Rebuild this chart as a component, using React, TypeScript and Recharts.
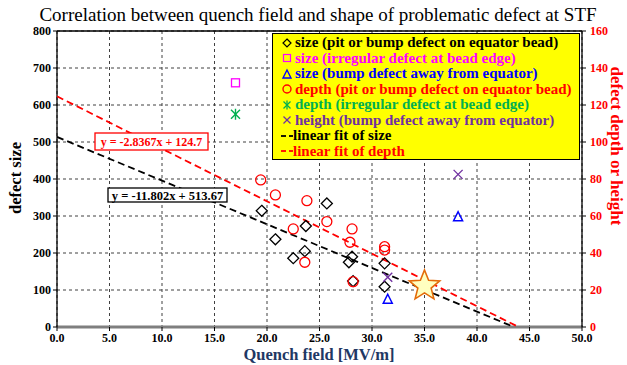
import React from 'react';
import { ComposedChart, Scatter, XAxis, YAxis, CartesianGrid, ReferenceLine } from 'recharts';

// ---- tick labels ----
const xTicks = [0, 5, 10, 15, 20, 25, 30, 35, 40, 45, 50];
const sizeTicks = [0, 100, 200, 300, 400, 500, 600, 700, 800];
const depthTicks = [0, 20, 40, 60, 80, 100, 120, 140, 160];

// ---- size (pit or bump defect on equator bead) ----
const sizeEquatorField = [19.5, 20.8, 22.5, 23.6, 23.7, 25.7, 27.8, 28.1, 28.2, 31.2, 31.2];
const sizeEquatorValue = [314, 237, 186, 205, 273, 334, 175, 190, 124, 172, 109];

// ---- size (irregular defect at bead edge) ----
const sizeEdgeField = [17.0];
const sizeEdgeValue = [660];

// ---- size (bump defect away from equator) ----
const sizeAwayField = [31.5, 38.2];
const sizeAwayValue = [75, 298];

// ---- depth (pit or bump defect on equator bead) ----
const depthEquatorField = [19.4, 20.8, 22.5, 23.6, 23.8, 25.7, 27.9, 28.1, 28.2, 31.2, 31.2];
const depthEquatorValue = [79.5, 71.4, 53, 35, 68.3, 57, 45.8, 53, 24.5, 43.4, 41.6];

// ---- depth (irregular defect at bead edge) ----
const depthEdgeField = [17.0];
const depthEdgeValue = [115];

// ---- height (bump defect away from equator) ----
const heightAwayField = [31.5, 38.2];
const heightAwayValue = [26.9, 82.5];

// ---- highlighted star ----
const starField = [35.0];
const starValue = [111];

// ---- linear fits (from the chart's equations) ----
const sizeFitSlope = -11.802;
const sizeFitIntercept = 513.67;
const depthFitSlope = -2.8367;
const depthFitIntercept = 124.7;

const zip = (xs: number[], ys: number[]) => xs.map((x, i) => ({ x, y: ys[i] }));
const fitLine = (m: number, b: number) => [
  { x: 0, y: b },
  { x: -b / m, y: 0 },
];

const FONT = "'Liberation Serif', 'Times New Roman', serif";

const C_BLACK = '#000000';
const C_MAGENTA = '#FF00FF';
const C_BLUE = '#0000FF';
const C_RED = '#FF0000';
const C_GREEN = '#00B050';
const C_PURPLE = '#7030A0';

const DiamondShape = (p: any) => {
  const { cx, cy } = p;
  if (cx == null || cy == null) return <g />;
  const r = 5.5;
  return (
    <polygon
      points={`${cx},${cy - r} ${cx + r},${cy} ${cx},${cy + r} ${cx - r},${cy}`}
      fill="none"
      stroke={C_BLACK}
      strokeWidth={1.3}
    />
  );
};
const SquareShape = (p: any) => {
  const { cx, cy } = p;
  if (cx == null || cy == null) return <g />;
  return <rect x={cx - 4} y={cy - 4} width={8} height={8} fill="none" stroke={C_MAGENTA} strokeWidth={1.3} />;
};
const TriangleShape = (p: any) => {
  const { cx, cy } = p;
  if (cx == null || cy == null) return <g />;
  return (
    <polygon
      points={`${cx},${cy - 5} ${cx + 4.5},${cy + 4} ${cx - 4.5},${cy + 4}`}
      fill="none"
      stroke={C_BLUE}
      strokeWidth={1.5}
    />
  );
};
const CircleShape = (p: any) => {
  const { cx, cy } = p;
  if (cx == null || cy == null) return <g />;
  return <circle cx={cx} cy={cy} r={5} fill="none" stroke={C_RED} strokeWidth={1.3} />;
};
const AsteriskShape = (p: any) => {
  const { cx, cy } = p;
  if (cx == null || cy == null) return <g />;
  const r = 4.5;
  return (
    <g stroke={C_GREEN} strokeWidth={1.4}>
      <line x1={cx - r} y1={cy - r} x2={cx + r} y2={cy + r} />
      <line x1={cx - r} y1={cy + r} x2={cx + r} y2={cy - r} />
      <line x1={cx} y1={cy - r - 1} x2={cx} y2={cy + r + 1} />
    </g>
  );
};
const CrossShape = (p: any) => {
  const { cx, cy } = p;
  if (cx == null || cy == null) return <g />;
  const r = 4.5;
  return (
    <g stroke={C_PURPLE} strokeWidth={1.4}>
      <line x1={cx - r} y1={cy - r} x2={cx + r} y2={cy + r} />
      <line x1={cx - r} y1={cy + r} x2={cx + r} y2={cy - r} />
    </g>
  );
};
const StarShape = (p: any) => {
  const { cx, cy } = p;
  if (cx == null || cy == null) return <g />;
  const R = 16;
  const r = 7;
  const pts: string[] = [];
  for (let i = 0; i < 10; i++) {
    const rad = i % 2 === 0 ? R : r;
    const a = -Math.PI / 2 + (i * Math.PI) / 5;
    pts.push(`${cx + rad * Math.cos(a)},${cy + rad * Math.sin(a)}`);
  }
  return <polygon points={pts.join(' ')} fill="#FFFFC0" stroke="#E46C0A" strokeWidth={1.6} />;
};
const NoShape = () => <g />;

const legendItems = [
  { label: 'size (pit or bump defect on equator bead)', color: C_BLACK, sym: 'diamond' },
  { label: 'size (irregular defect at bead edge)', color: C_MAGENTA, sym: 'square' },
  { label: 'size (bump defect away from equator)', color: C_BLUE, sym: 'triangle' },
  { label: 'depth (pit or bump defect on equator bead)', color: C_RED, sym: 'circle' },
  { label: 'depth (irregular defect at bead edge)', color: C_GREEN, sym: 'asterisk' },
  { label: 'height (bump defect away from equator)', color: C_PURPLE, sym: 'cross' },
  { label: 'linear fit of size', color: C_BLACK, sym: 'dash' },
  { label: 'linear fit of depth', color: C_RED, sym: 'dash' },
];

const LegendSymbol = ({ sym, color }: { sym: string; color: string }) => {
  const c = 6;
  let el: any = null;
  if (sym === 'diamond') el = <polygon points="6,2 10,6 6,10 2,6" fill="none" stroke={color} strokeWidth={1.2} />;
  if (sym === 'square') el = <rect x={2.5} y={2.5} width={7} height={7} fill="none" stroke={color} strokeWidth={1.2} />;
  if (sym === 'triangle') el = <polygon points="6,2 10,10 2,10" fill="none" stroke={color} strokeWidth={1.4} />;
  if (sym === 'circle') el = <circle cx={c} cy={c} r={4} fill="none" stroke={color} strokeWidth={1.4} />;
  if (sym === 'asterisk')
    el = (
      <g stroke={color} strokeWidth={1.3}>
        <line x1={2.5} y1={2.5} x2={9.5} y2={9.5} />
        <line x1={2.5} y1={9.5} x2={9.5} y2={2.5} />
        <line x1={6} y1={1.5} x2={6} y2={10.5} />
      </g>
    );
  if (sym === 'cross')
    el = (
      <g stroke={color} strokeWidth={1.3}>
        <line x1={2.5} y1={2.5} x2={9.5} y2={9.5} />
        <line x1={2.5} y1={9.5} x2={9.5} y2={2.5} />
      </g>
    );
  if (sym === 'dash')
    el = (
      <g stroke={color} strokeWidth={1.8}>
        <line x1={0} y1={6} x2={5} y2={6} />
        <line x1={8} y1={6} x2={12} y2={6} />
      </g>
    );
  return (
    <svg width={12} height={12} style={{ display: 'block', flex: '0 0 auto' }}>
      {el}
    </svg>
  );
};

const makeTick = (color: string, anchor: 'middle' | 'end' | 'start', fmt: (v: number) => string, dx: number, dy: number) =>
  (props: any) => {
    const { x, y, payload } = props;
    return (
      <text
        x={x + dx}
        y={y + dy}
        textAnchor={anchor}
        fontFamily={FONT}
        fontSize={12}
        fontWeight={700}
        fill={color}
      >
        {fmt(payload.value)}
      </text>
    );
  };

const xTick = makeTick('#000', 'middle', (v) => v.toFixed(1), 0, 9);
const leftTick = makeTick('#000', 'end', (v) => String(v), 0, 4);
const rightTick = makeTick(C_RED, 'start', (v) => String(v), 2, 4);

export default function App() {
  return (
    <div style={{ position: 'absolute', left: 0, top: 0, width: 627, height: 365, background: '#fff', fontFamily: FONT }}>
      <ComposedChart width={627} height={365} margin={{ top: 31, right: 15, bottom: 16, left: 17 }}>
        <CartesianGrid stroke="#404040" strokeDasharray="3 3" strokeWidth={1} yAxisId="size" />
        <XAxis
          type="number"
          dataKey="x"
          domain={[0, 50]}
          ticks={xTicks}
          allowDataOverflow
          tick={xTick}
          axisLine={{ stroke: '#7F7F7F', strokeWidth: 3 }}
          tickLine={{ stroke: '#000' }}
          tickSize={4}
          height={22}
        />
        <YAxis
          yAxisId="size"
          type="number"
          dataKey="y"
          domain={[0, 800]}
          ticks={sizeTicks}
          allowDataOverflow
          tick={leftTick}
          axisLine={{ stroke: '#000', strokeWidth: 1.3 }}
          tickLine={{ stroke: '#000' }}
          tickSize={4}
          width={40}
        />
        <YAxis
          yAxisId="depth"
          orientation="right"
          type="number"
          dataKey="y"
          domain={[0, 160]}
          ticks={depthTicks}
          allowDataOverflow
          tick={rightTick}
          axisLine={{ stroke: '#000', strokeWidth: 1.3 }}
          tickLine={{ stroke: '#000' }}
          tickSize={4}
          width={30}
        />
        <ReferenceLine yAxisId="size" y={800} stroke="#000" strokeWidth={1.3} />

        <Scatter
          yAxisId="size"
          data={fitLine(sizeFitSlope, sizeFitIntercept)}
          dataKey="y"
          shape={NoShape}
          line={{ stroke: '#000', strokeWidth: 1.8, strokeDasharray: '7 4' }}
          isAnimationActive={false}
        />
        <Scatter
          yAxisId="depth"
          data={fitLine(depthFitSlope, depthFitIntercept)}
          dataKey="y"
          shape={NoShape}
          line={{ stroke: C_RED, strokeWidth: 1.8, strokeDasharray: '7 4' }}
          isAnimationActive={false}
        />

        <Scatter yAxisId="size" data={zip(sizeEquatorField, sizeEquatorValue)} dataKey="y" shape={DiamondShape} isAnimationActive={false} />
        <Scatter yAxisId="size" data={zip(sizeEdgeField, sizeEdgeValue)} dataKey="y" shape={SquareShape} isAnimationActive={false} />
        <Scatter yAxisId="size" data={zip(sizeAwayField, sizeAwayValue)} dataKey="y" shape={TriangleShape} isAnimationActive={false} />
        <Scatter yAxisId="depth" data={zip(depthEquatorField, depthEquatorValue)} dataKey="y" shape={CircleShape} isAnimationActive={false} />
        <Scatter yAxisId="depth" data={zip(depthEdgeField, depthEdgeValue)} dataKey="y" shape={AsteriskShape} isAnimationActive={false} />
        <Scatter yAxisId="depth" data={zip(heightAwayField, heightAwayValue)} dataKey="y" shape={CrossShape} isAnimationActive={false} />
        <Scatter yAxisId="size" data={zip(starField, starValue)} dataKey="y" shape={StarShape} isAnimationActive={false} />
      </ComposedChart>

      {/* titles and annotations */}
      <svg width={627} height={365} style={{ position: 'absolute', left: 0, top: 0, pointerEvents: 'none' }}>
        <text x={318} y={21} textAnchor="middle" fontFamily={FONT} fontSize={19} fill="#000">
          Correlation between quench field and shape of problematic defect at STF
        </text>
        <text x={319} y={360} textAnchor="middle" fontFamily={FONT} fontSize={16.5} fontWeight={700} fill="#1F3864">
          Quench field  [MV/m]
        </text>
        <text
          transform="translate(21,178) rotate(-90)"
          textAnchor="middle"
          fontFamily={FONT}
          fontSize={16.5}
          fontWeight={700}
          fill="#000"
        >
          defect size
        </text>
        <text
          transform="translate(611,146) rotate(90)"
          textAnchor="middle"
          fontFamily={FONT}
          fontSize={17}
          fontWeight={700}
          fill={C_RED}
        >
          defect depth or height
        </text>

        <rect x={95} y={133} width={113} height={17} fill="#fff" stroke={C_RED} strokeWidth={1.3} />
        <text x={151.5} y={145.5} textAnchor="middle" fontFamily={FONT} fontSize={12} fontWeight={700} fill={C_RED}>
          y = -2.8367x + 124.7
        </text>
        <rect x={108} y={188} width={119} height={14} fill="#fff" stroke="#000" strokeWidth={1.3} />
        <text x={167.5} y={199.5} textAnchor="middle" fontFamily={FONT} fontSize={12.5} fontWeight={700} fill="#000">
          y = -11.802x + 513.67
        </text>
      </svg>

      {/* legend */}
      <div
        style={{
          position: 'absolute',
          left: 272,
          top: 33,
          width: 308,
          height: 127,
          background: '#FFFF00',
          border: '1.5px solid #000',
          boxSizing: 'border-box',
          paddingTop: 1,
          paddingLeft: 8,
        }}
      >
        {legendItems.map((it) => (
          <div
            key={it.label}
            style={{
              display: 'flex',
              alignItems: 'center',
              height: 15.5,
              fontFamily: FONT,
              fontSize: 15,
              fontWeight: 700,
              color: it.color,
              whiteSpace: 'nowrap',
              lineHeight: '15.5px',
            }}
          >
            <LegendSymbol sym={it.sym} color={it.color} />
            <span style={{ marginLeft: it.sym === 'dash' ? 0 : 2 }}>{it.label}</span>
          </div>
        ))}
      </div>
    </div>
  );
}
